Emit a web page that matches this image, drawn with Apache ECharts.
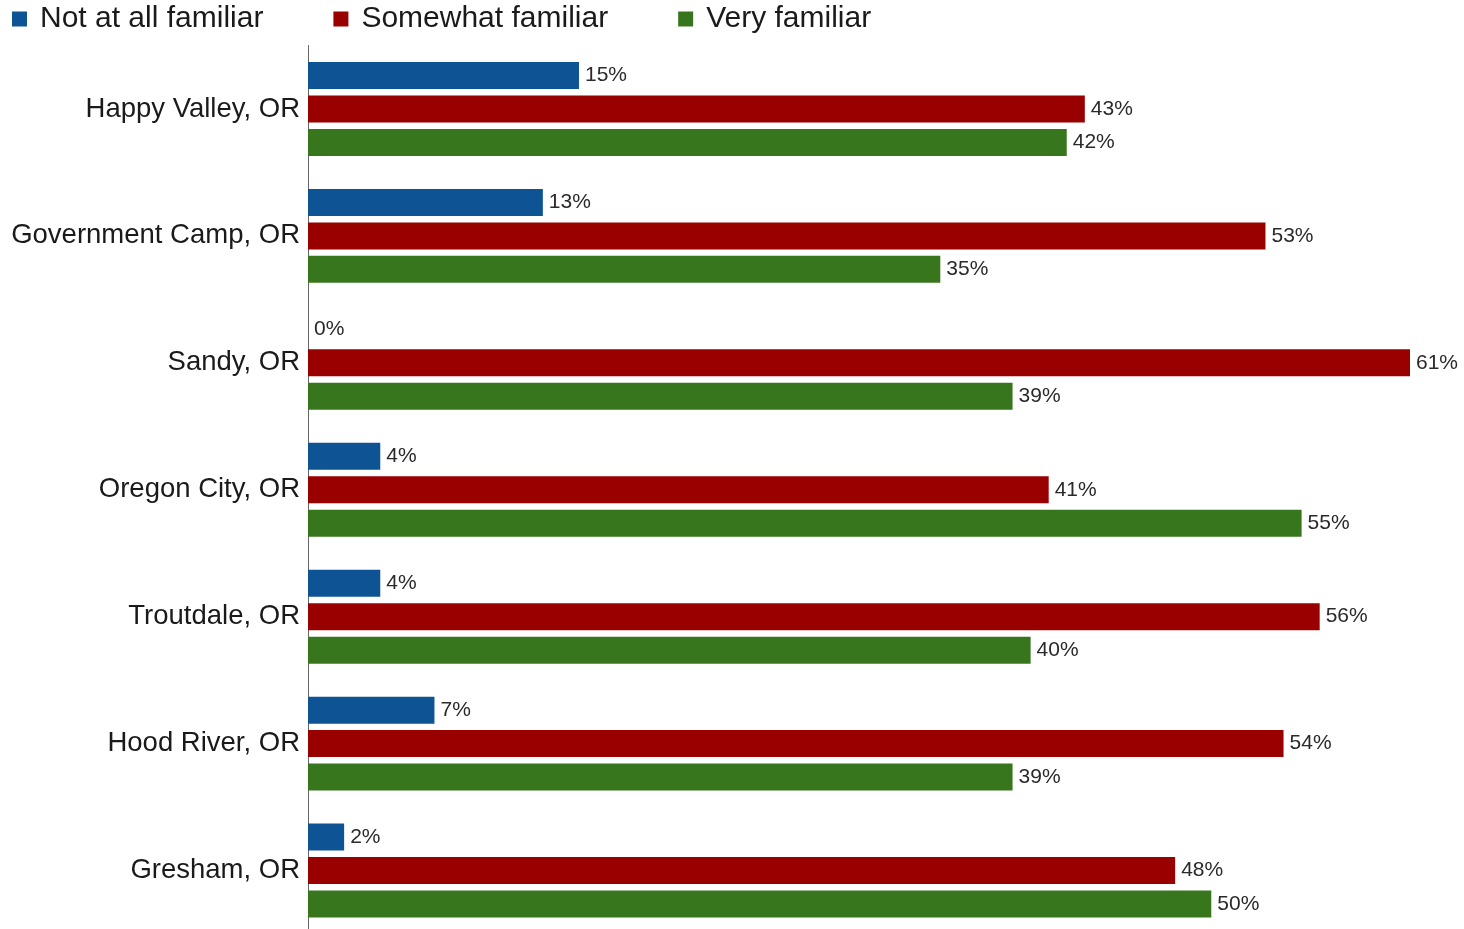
<!DOCTYPE html>
<html>
<head>
<meta charset="utf-8">
<title>Familiarity by location</title>
<script src="https://cdn.jsdelivr.net/npm/echarts@6/dist/echarts.min.js"></script>
<style>
  html, body { margin: 0; padding: 0; background: #ffffff; overflow: hidden; }
  #chart { width: 1464px; height: 940px; }
</style>
</head>
<body>
<div id="chart"></div>
<script>
// Locations, top to bottom
const locations = [
  'Happy Valley, OR',
  'Government Camp, OR',
  'Sandy, OR',
  'Oregon City, OR',
  'Troutdale, OR',
  'Hood River, OR',
  'Gresham, OR'
];

// Share of respondents (%) per familiarity level
const notAtAllFamiliar = [15, 13, 0, 4, 4, 7, 2];
const somewhatFamiliar = [43, 53, 61, 41, 56, 54, 48];
const veryFamiliar     = [42, 35, 39, 55, 40, 39, 50];

const seriesNames = ['Not at all familiar', 'Somewhat familiar', 'Very familiar'];
const seriesColors = ['#0e5394', '#990000', '#38761d'];
const seriesValues = [notAtAllFamiliar, somewhatFamiliar, veryFamiliar];

const FONT = '"Liberation Sans", Arial, Helvetica, sans-serif';

const chart = echarts.init(document.getElementById('chart'), null, { renderer: 'canvas' });

chart.setOption({
  backgroundColor: '#ffffff',
  animation: false,
  legend: {
    left: 12,
    top: 4,
    padding: 0,
    itemWidth: 15,
    itemHeight: 15,
    itemGap: 70,
    icon: 'rect',
    textStyle: {
      fontFamily: FONT,
      fontSize: 30,
      color: '#1a1a1a',
      padding: [0, 0, 0, 8]
    },
    data: seriesNames
  },
  grid: {
    left: 308,
    right: 54,
    top: 45.5,
    height: 888.5,
    containLabel: false
  },
  xAxis: {
    type: 'value',
    min: 0,
    max: 61,
    show: false
  },
  yAxis: {
    type: 'category',
    inverse: true,
    data: locations,
    axisLine: { show: true, lineStyle: { color: '#666666', width: 1 } },
    axisTick: { show: false },
    axisLabel: {
      fontFamily: FONT,
      fontSize: 27.5,
      color: '#1a1a1a',
      margin: 8
    },
    splitLine: { show: false }
  },
  series: seriesNames.map((name, i) => ({
    name: name,
    type: 'bar',
    data: seriesValues[i],
    barWidth: 27,
    barGap: '24%',
    itemStyle: { color: seriesColors[i] },
    label: {
      show: true,
      position: 'right',
      distance: 6,
      formatter: '{c}%',
      fontFamily: FONT,
      fontSize: 21,
      color: '#2a2a2a'
    }
  }))
});
</script>
</body>
</html>
